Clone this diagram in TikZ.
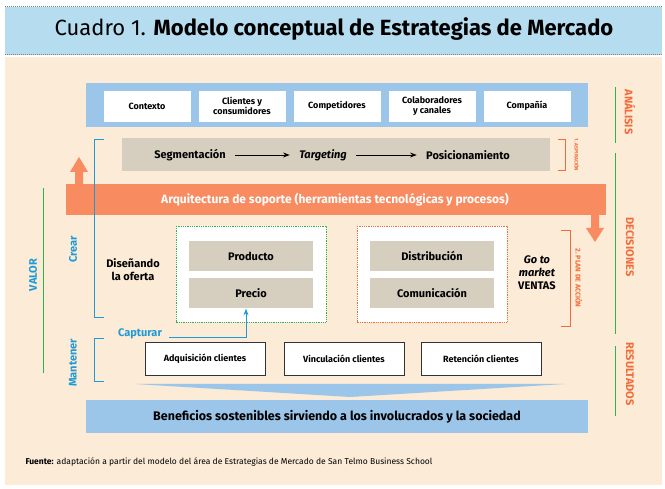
\documentclass[tikz,border=0pt]{standalone}
\usepackage{fontspec}
\setmainfont{Fira Sans}
\usetikzlibrary{positioning,calc,arrows.meta}
\definecolor{titlebg}{HTML}{B5DCEF}
\definecolor{cream}{HTML}{FCEBD6}
\definecolor{skyblue}{HTML}{9CC5EA}
\definecolor{taupe}{HTML}{D6CFC0}
\definecolor{salmon}{HTML}{F98B60}
\definecolor{darkorange}{HTML}{F26B3A}
\definecolor{cyanblue}{HTML}{1E9AD6}
\definecolor{leafgreen}{HTML}{2DB34A}
\tikzset{
  whitebox/.style={draw=white, fill=white, minimum width=86pt, minimum height=30pt, font=\fontsize{9}{10}\selectfont\bfseries, align=center},
  graybox/.style={fill=taupe, draw=white, minimum width=125pt, minimum height=31pt, font=\fontsize{11}{12}\selectfont\bfseries},
  resbox/.style={draw=black!80, thick, fill=white, minimum width=120pt, minimum height=33pt, font=\fontsize{9}{10}\selectfont\bfseries},
  sidelabel/.style={rotate=-90, text=darkorange, font=\fontsize{11}{12}\selectfont\bfseries},
  leftlabel/.style={rotate=90, text=cyanblue, font=\fontsize{11}{12}\selectfont\bfseries}
}
\begin{document}
\begin{tikzpicture}[x=1pt,y=-1pt]
\useasboundingbox (0,0) rectangle (665,489);
\fill[white] (0,0) rectangle (665,489);
% title band
\fill[titlebg] (5,7) rectangle (662,55);
\draw[gray, densely dotted, line width=1pt] (5,7) -- (662,7) (5,55) -- (662,55);
\node (title) at (334,29) {\fontsize{22}{24}\selectfont Cuadro 1. \textbf{Modelo conceptual de Estrategias de Mercado}};
\fill[cream] (5,57) rectangle (662,485);
% analysis
\fill[skyblue] (86,83) rectangle (588,127);
\node[whitebox] (ctx) at (147,106) {Contexto};
\node[whitebox] (cli) at (242,106) {Clientes y\\consumidores};
\node[whitebox] (comp) at (337,106) {Competidores};
\node[whitebox] (col) at (432,106) {Colaboradores\\y canales};
\node[whitebox] (cia) at (527,106) {Compañía};
% aspiration
\fill[taupe] (122,138) rectangle (550,171);
\node[font=\fontsize{11}{12}\selectfont\bfseries] (seg) at (190,155) {Segmentación};
\node[font=\fontsize{11}{12}\selectfont\bfseries\itshape] (tgt) at (323,155) {Targeting};
\node[font=\fontsize{11}{12}\selectfont\bfseries] (pos) at (468,155) {Posicionamiento};
\draw[-Stealth, thick, shorten <=6pt, shorten >=6pt] (seg) -- (tgt);
\draw[-Stealth, thick, shorten <=6pt, shorten >=6pt] (tgt) -- (pos);
\draw[darkorange, thick] (558,139) -- (565,139) -- (565,170) -- (558,170);
\node[rotate=-90, text=darkorange, font=\fontsize{5}{6}\selectfont\bfseries] (asp) at (577,155) {1. ASPIRACIÓN};
% support
\fill[salmon] (75,184) -- (75,172) -- (70,172) -- (79,157) -- (88,172) -- (83,172) -- (83,184) -- cycle;
\fill[salmon] (66,184) rectangle (606,215);
\fill[salmon] (591,215) -- (599,215) -- (599,228) -- (604,228) -- (595,242) -- (586,228) -- (591,228) -- cycle;
\node[text=white, font=\fontsize{12}{13}\selectfont\bfseries] (arq) at (335,200) {Arquitectura de soporte (herramientas tecnológicas y procesos)};
% value
\draw[leafgreen, thick] (43,188) -- (43,373);
\node[leftlabel] (valor) at (33,275) {VALOR};
\draw[cyanblue, thick] (104,139) -- (94,139) -- (94,317) -- (104,317);
\node[leftlabel] (crear) at (73,249) {Crear};
\node[align=center, font=\fontsize{11}{13}\selectfont\bfseries] (dis) at (133,270) {Diseñando\\la oferta};
\draw[leafgreen, densely dotted, thick, fill=white] (176,226) rectangle (326,322);
\node[graybox] (prod) at (251,256) {Producto};
\node[graybox] (prec) at (251,293) {Precio};
\draw[darkorange, densely dotted, thick, fill=white] (357,226) rectangle (507,322);
\node[graybox] (dist) at (432,256) {Distribución};
\node[graybox] (comu) at (432,293) {Comunicación};
\node[align=center, font=\fontsize{11}{13}\selectfont\bfseries] (gtm) at (537,273) {\textit{Go to}\\\textit{market}\\VENTAS};
\draw[darkorange, thick] (561,230) -- (570,230) -- (570,326) -- (561,326);
\node[rotate=-90, text=darkorange, font=\fontsize{7}{8}\selectfont\bfseries] (plan) at (579,278) {2. PLAN DE ACCIÓN};
% keep
\draw[cyanblue, thick] (104,338) -- (94,338) -- (94,381) -- (104,381);
\node[leftlabel] (mant) at (73,363) {Mantener};
\node[text=cyanblue, font=\fontsize{11}{12}\selectfont\bfseries] (capt) at (140,334) {Capturar};
\draw[cyanblue, thick, -Stealth] (capt.east) ++(4,3) -| (prec.south -| 246,0);
\node[resbox] (adq) at (205,359) {Adquisición clientes};
\node[resbox] (vin) at (344,359) {Vinculación clientes};
\node[resbox] (ret) at (481,359) {Retención clientes};
\fill[skyblue] (135,384) -- (565,384) -- (350,397) -- cycle;
\fill[skyblue] (86,400) rectangle (588,433);
\node[font=\fontsize{12.5}{13}\selectfont\bfseries] (ben) at (337,417) {Beneficios sostenibles sirviendo a los involucrados y la sociedad};
% stages
\draw[leafgreen, thick] (615,87) -- (615,143) (615,153) -- (615,334) (615,346) -- (615,416);
\node[sidelabel] (ana) at (630,112) {ANÁLISIS};
\node[sidelabel] (dec) at (630,247) {DECISIONES};
\node[sidelabel] (res) at (630,374) {RESULTADOS};
\node[anchor=west, font=\fontsize{8.5}{10}\selectfont] (src) at (22,462) {\textbf{Fuente:} adaptación a partir del modelo del área de Estrategias de Mercado de San Telmo Business School};
\end{tikzpicture}
\end{document}
